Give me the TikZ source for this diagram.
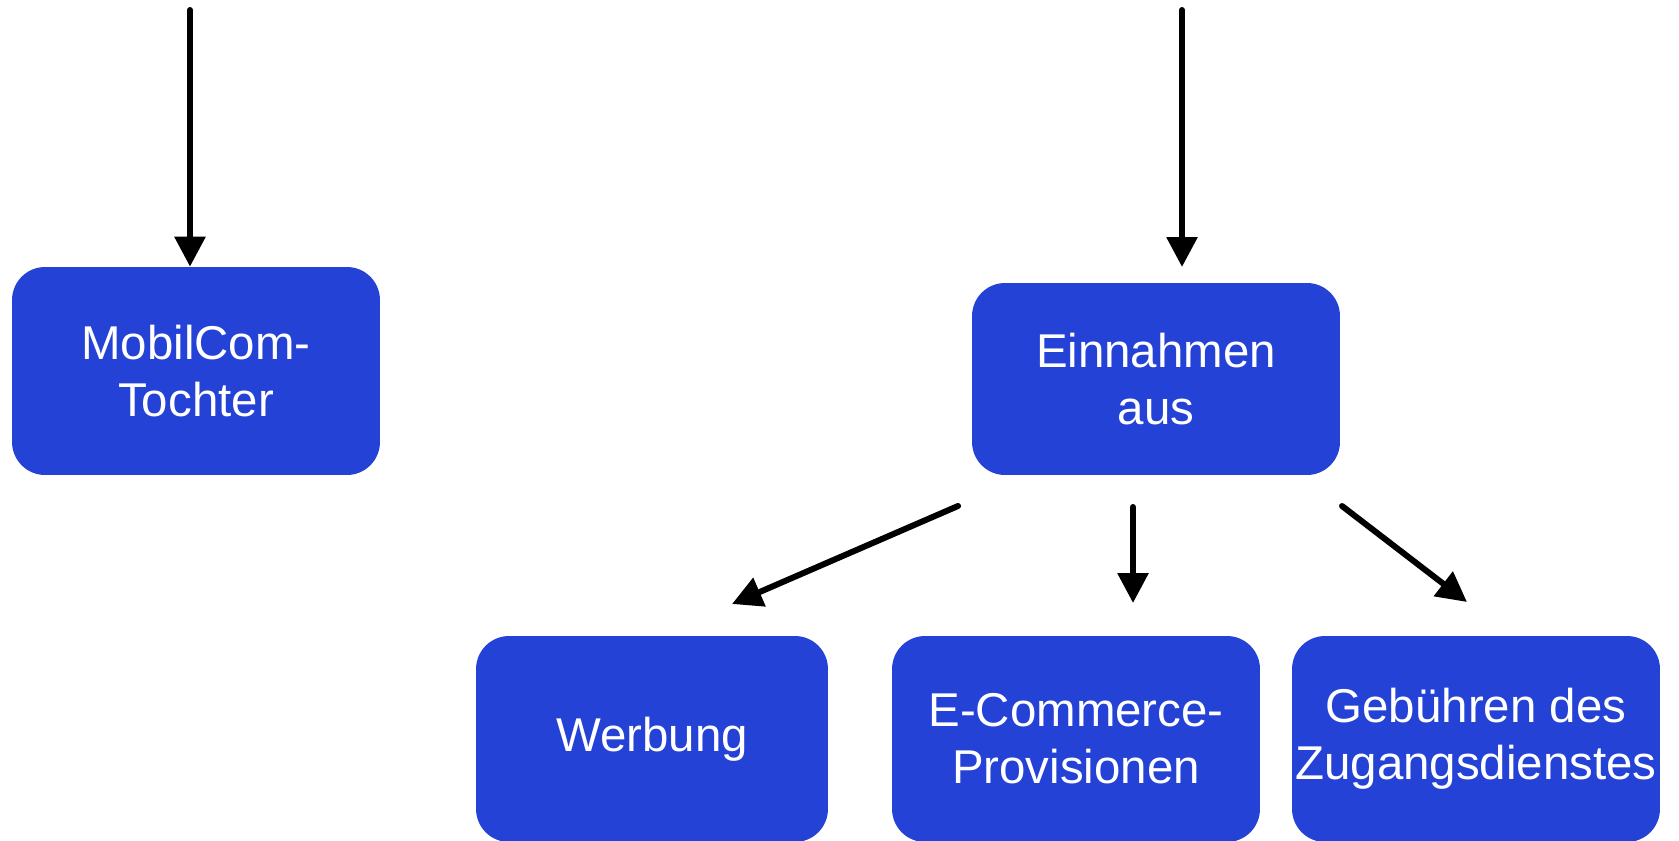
\documentclass[tikz,border=0pt]{standalone}
\usepackage{fontspec}
\setmainfont{Liberation Sans}
\usetikzlibrary{arrows.meta}
\definecolor{boxblue}{HTML}{2542D6}
\begin{document}
\begin{tikzpicture}[x=0.02cm,y=-0.02cm,
  box/.style={fill=boxblue,draw=none,rounded corners=0.66cm,text=white,align=center,inner sep=0pt,
    font=\fontsize{27}{32.4}\selectfont},
  conn/.style={line width=0.12cm,line cap=round,-{Triangle[length=0.6cm,width=0.6cm]}}]
\useasboundingbox (0,0) rectangle (1679,841);
\begin{scope}
\clip (0,0) rectangle (1679,841);
\node[box,minimum width=7.36cm,minimum height=4.16cm] (mob) at (196,371) {MobilCom-\\Tochter};
\node[box,minimum width=7.36cm,minimum height=3.84cm] (ein) at (1156,379) {Einnahmen\\aus};
\node[box,minimum width=7.04cm,minimum height=4.12cm] (wer) at (652,739) {Werbung};
\node[box,minimum width=7.36cm,minimum height=4.12cm] (eco) at (1076,739) {E-Commerce-\\Provisionen};
\node[box,minimum width=7.36cm,minimum height=4.12cm] (geb) at (1476,739) {Gebühren des\\Zugangsdienstes};
\end{scope}
\coordinate (t1) at (190,10);
\coordinate (t2) at (1182,10);
\coordinate (e2) at (1182,267);
\coordinate (s1) at (958,506);
\coordinate (s2) at (1133,507);
\coordinate (s3) at (1342,506);
\coordinate (h1) at (732,604);
\coordinate (h2) at (1133,603);
\coordinate (h3) at (1467,602);
\draw[conn] (t1) -- (t1 |- mob.north);
\draw[conn] (t2) -- (e2);
\draw[conn] (s1) -- (h1);
\draw[conn] (s2) -- (h2);
\draw[conn] (s3) -- (h3);
\end{tikzpicture}
\end{document}
